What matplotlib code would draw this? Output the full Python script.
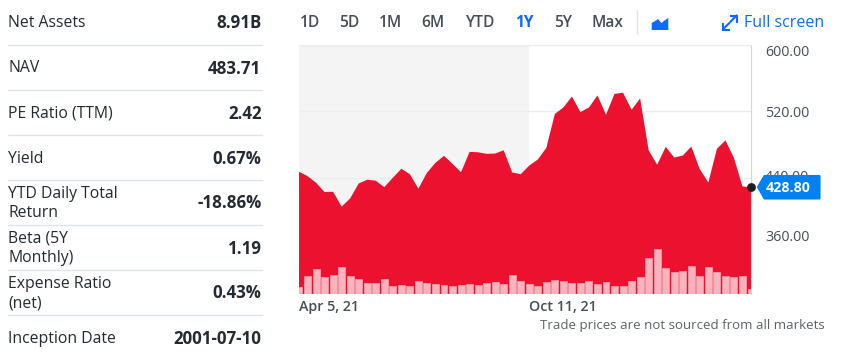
import matplotlib
matplotlib.use('Agg')
import matplotlib.pyplot as plt
import pandas as pd
from matplotlib.patches import Polygon
from matplotlib.transforms import ScaledTranslation

plt.rcParams['font.family'] = ['Open Sans', 'DejaVu Sans']

W, H = 841, 361
DPI = 100
INK = '#232a31'
GREY = '#464e56'
BLUE = '#0f69ff'
RED = '#ec122f'

# price series, weekly
prices = [447.4, 442.2, 434.3, 423.1, 423.5, 405.6, 415.5, 433.4, 437.9, 436.7,
          429.0, 440.2, 451.0, 444.5, 427.1, 446.2, 458.2, 466.5, 457.0, 446.9,
          471.3, 470.8, 468.9, 469.3, 473.2, 446.6, 444.5, 454.9, 462.1, 476.1,
          516.7, 524.5, 537.7, 519.0, 524.5, 538.9, 515.8, 540.9, 542.1, 521.8,
          535.3, 473.2, 455.8, 477.3, 464.5, 466.9, 477.6, 450.5, 434.6, 474.9,
          485.1, 464.1, 429.9, 428.8]
# volume bars, no scale in the picture so units are arbitrary
volumes = [6.7, 17.7, 25.3, 16.7, 19.0, 27.3, 18.3, 14.7, 11.0, 11.0,
           15.3, 8.3, 9.3, 7.7, 13.0, 11.3, 10.0, 9.0, 7.7, 8.7,
           10.3, 9.0, 11.0, 12.3, 9.7, 19.3, 13.3, 10.3, 8.3, 11.7,
           14.3, 13.3, 11.0, 11.0, 13.3, 9.7, 12.3, 8.0, 8.3, 13.3,
           17.3, 35.7, 45.0, 26.0, 22.0, 23.0, 27.7, 18.3, 27.0, 21.7,
           18.0, 16.7, 18.3, 5.0]
dates = pd.date_range('2021-04-05', periods=len(prices), freq='W-MON')
split_date = pd.Timestamp('2021-10-11')
last_price = 428.80

price_ticks = [360, 440, 520, 600]
# how far each price label sits above its gridline, px
price_label_shift = [9, 2, 0, -6.5]
date_ticks = [dates[0], split_date]
date_labels = ['Apr 5, 21', 'Oct 11, 21']

ranges = ['1D', '5D', '1M', '6M', 'YTD', '1Y', '5Y', 'Max']
range_x = [309.5, 349, 390, 433, 480, 524.5, 563, 607.5]

rows = [('Net Assets', '8.91B'), ('NAV', '483.71'), ('PE Ratio (TTM)', '2.42'),
        ('Yield', '0.67%'), ('YTD Daily Total\nReturn', '-18.86%'),
        ('Beta (5Y\nMonthly)', '1.19'), ('Expense Ratio\n(net)', '0.43%'),
        ('Inception Date', '2001-07-10')]
row_y = [23, 68.5, 114, 159, 203.5, 248.5, 293.5, 339]
rule_y = [44.5, 89.5, 134.5, 179.5, 224.5, 269.5, 314.5]

fig = plt.figure(figsize=(W / DPI, H / DPI), dpi=DPI)

left, right, top, bottom = 299, 751, 44.5, 294
ax = fig.add_axes([left / W, 1 - bottom / H, (right - left) / W, (bottom - top) / H])
ax_vol = ax.twinx()
ax_vol.set_zorder(ax.get_zorder() + 1)
ax_vol.patch.set_visible(False)

ax.axvspan(dates[0], split_date, color='#f4f4f4', lw=0, zorder=0)
ax.set_axisbelow(True)
ax.grid(axis='y', color='#ececec', lw=1)
ax.fill_between(dates, prices, 0, color=RED, lw=0, zorder=2)
ax.plot(dates[-1], last_price, 'o', ms=5.3, color='#1d1d1d', clip_on=False, zorder=5)
ax.set_xlim(dates[0], dates[-1])
ax.set_ylim(300.9, 600)
ax.yaxis.tick_right()
ax.set_yticks(price_ticks)
ax.set_yticklabels([f'{v:.2f}' for v in price_ticks])
ax.set_xticks(date_ticks)
ax.set_xticklabels(date_labels, ha='left')
ax.tick_params(axis='y', length=0, pad=10, labelsize=10.3, labelcolor=GREY)
ax.tick_params(axis='x', length=0, pad=4, labelsize=10.3, labelcolor=GREY)
for lab in ax.get_xticklabels():
    lab.set_fontweight('semibold')
for tick, dy in zip(ax.yaxis.get_major_ticks(), price_label_shift):
    tick.label2.set_transform(tick.label2.get_transform()
                              + ScaledTranslation(0, dy / DPI, fig.dpi_scale_trans))
for side in ['left', 'bottom']:
    ax.spines[side].set_visible(False)
ax.spines['top'].set_color('#ececec')
ax.spines['right'].set_color('#d4d4e0')

ax_vol.bar(dates, volumes, width=pd.Timedelta(days=5.7), color='#fbb3bd',
           edgecolor='#f8a3af', lw=0.5)
ax_vol.set_xlim(dates[0], dates[-1])
ax_vol.set_ylim(0, 249.5)
ax_vol.set_yticks([])
for sp in ax_vol.spines.values():
    sp.set_visible(False)

# page furniture in pixel coordinates
ui = fig.add_axes([0, 0, 1, 1], zorder=10)
ui.set_xlim(0, W)
ui.set_ylim(H, 0)
ui.axis('off')

for (name, val), y in zip(rows, row_y):
    ui.text(8, y, name, fontsize=11.3, color=INK, va='center', linespacing=1.3)
    ui.text(261.5, y, val, fontsize=12.2, color=INK, va='center', ha='right', fontweight='bold')
for y in rule_y:
    ui.plot([8, 262], [y, y], color='#e0e4e9', lw=1)

for name, x in zip(ranges, range_x):
    active = name == '1Y'
    ui.text(x, 23, name, fontsize=11.2, ha='center', va='center',
            color=BLUE if active else GREY, fontweight='bold' if active else 'semibold')
ui.plot([637.5, 637.5], [11, 33], color='#e0e4e9', lw=1)

# area chart icon
ui.add_patch(Polygon([(651.7, 30), (651.7, 23), (656, 20.5), (658, 19), (661.5, 23),
                      (664.5, 20.5), (668.3, 18), (668.3, 30)], color=BLUE, lw=0))
# full screen arrows
ui.plot([730.7, 736.7, 736.7], [15.5, 15.5, 21.7], color=BLUE, lw=1.5, solid_joinstyle='miter')
ui.plot([736.5, 730.5], [15.7, 21.7], color=BLUE, lw=1.5)
ui.plot([722.8, 722.8, 729.5], [23.5, 29.5, 29.5], color=BLUE, lw=1.5, solid_joinstyle='miter')
ui.plot([723, 729], [29.3, 23.3], color=BLUE, lw=1.5)
ui.text(744, 23, 'Full screen', fontsize=11.5, color=BLUE, va='center')

ui.add_patch(Polygon([(758, 187), (764.5, 176), (819.5, 176), (819.5, 198.5), (764.5, 198.5)],
                     facecolor='#0081f2', edgecolor='#0081f2', lw=1.5, joinstyle='round'))
ui.text(788, 188, f'{last_price:.2f}', fontsize=10.3, color='white', fontweight='bold',
        ha='center', va='center')
ui.text(824.5, 326, 'Trade prices are not sourced from all markets', fontsize=9.5,
        color='#5b636a', ha='right', va='center')

fig.savefig('out.png', dpi=DPI)
